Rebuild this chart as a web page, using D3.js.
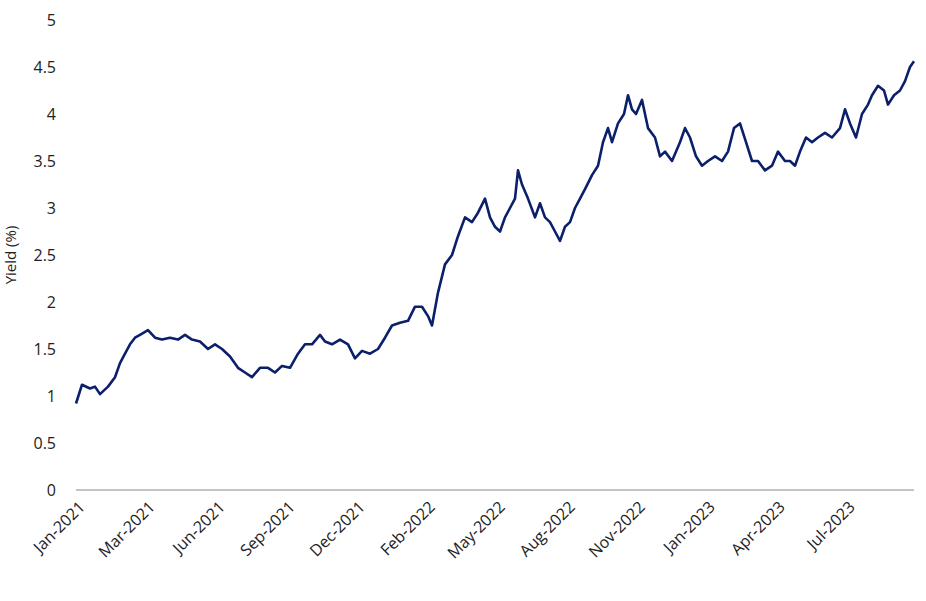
<!DOCTYPE html>
<html><head><meta charset="utf-8">
<script src="https://cdn.jsdelivr.net/npm/d3@7"></script>
<style>body{margin:0;background:#fff}text{font-family:"Open Sans",sans-serif}</style>
</head><body><svg id="c" width="926" height="601"></svg>
<script>
const tickLabels=["Jan-2021","Mar-2021","Jun-2021","Sep-2021","Dec-2021","Feb-2022","May-2022","Aug-2022","Nov-2022","Jan-2023","Apr-2023","Jul-2023"];
const yTicks=[0,0.5,1,1.5,2,2.5,3,3.5,4,4.5,5];
// approximate time position of each reading (arbitrary units, 838 = full span)
const tIdx=[0,6,14,19,24,32,39,44,49,54,59,64,72,79,86,94,102,109,116,124,132,139,146,154,162,169,176,184,192,199,206,214,222,229,236,244,249,256,264,272,279,286,294,302,309,316,324,332,339,346,352,356,362,369,376,382,389,396,402,409,414,419,424,429,434,439,442,446,452,459,464,469,474,479,484,489,494,499,504,509,516,522,527,532,536,542,548,552,556,560,566,572,579,584,589,596,604,609,614,620,626,632,639,646,652,658,664,670,676,682,689,696,702,709,714,719,724,730,736,742,749,756,764,769,774,780,786,792,796,802,808,812,818,824,829,834,838];
const yields=[0.92,1.12,1.08,1.1,1.02,1.1,1.2,1.35,1.45,1.55,1.62,1.65,1.7,1.62,1.6,1.62,1.6,1.65,1.6,1.58,1.5,1.55,1.5,1.42,1.3,1.25,1.2,1.3,1.3,1.25,1.32,1.3,1.45,1.55,1.55,1.65,1.58,1.55,1.6,1.55,1.4,1.48,1.45,1.5,1.62,1.75,1.78,1.8,1.95,1.95,1.85,1.75,2.1,2.4,2.5,2.7,2.9,2.85,2.95,3.1,2.9,2.8,2.75,2.9,3.0,3.1,3.4,3.25,3.1,2.9,3.05,2.9,2.85,2.75,2.65,2.8,2.85,3.0,3.1,3.2,3.35,3.45,3.7,3.85,3.7,3.9,4.0,4.2,4.05,4.0,4.15,3.85,3.75,3.55,3.6,3.5,3.7,3.85,3.75,3.55,3.45,3.5,3.55,3.5,3.6,3.85,3.9,3.7,3.5,3.5,3.4,3.45,3.6,3.5,3.5,3.45,3.6,3.75,3.7,3.75,3.8,3.75,3.85,4.05,3.9,3.75,4.0,4.1,4.2,4.3,4.25,4.1,4.2,4.25,4.35,4.5,4.56];
const data=yields.map((v,i)=>({t:tIdx[Math.min(i,tIdx.length-1)],v}));
const svg=d3.select("#c");
const L=76,R=914,T=20,B=490;
const x=d3.scaleLinear().domain([0,838]).range([L,R]);
const y=d3.scaleLinear().domain([0,5]).range([B,T]);
const tx=d3.scaleLinear().domain([0,11.97]).range([L,R]);
svg.append("g").selectAll("text").data(yTicks).join("text")
 .attr("x",56).attr("y",d=>y(d)).attr("dy","0.35em").attr("text-anchor","end")
 .attr("font-size",16).attr("fill","#222").text(d=>d);
svg.append("line").attr("x1",L).attr("x2",R).attr("y1",B).attr("y2",B).attr("stroke","#888");
svg.append("g").selectAll("text").data(tickLabels).join("text")
 .attr("transform",(d,i)=>`translate(${tx(i)+6},${B+14}) rotate(-45)`)
 .attr("text-anchor","end").attr("dy","0.35em").attr("font-size",16).attr("fill","#222").text(d=>d);
svg.append("text").attr("transform",`translate(16,255) rotate(-90)`).attr("text-anchor","middle")
 .attr("font-size",15).attr("fill","#222").text("Yield (%)");
svg.append("path").datum(data).attr("fill","none").attr("stroke","#0b1f6b").attr("stroke-width",2.6)
 .attr("stroke-linejoin","round").attr("d",d3.line().x(d=>x(d.t)).y(d=>y(d.v)));
</script></body></html>
